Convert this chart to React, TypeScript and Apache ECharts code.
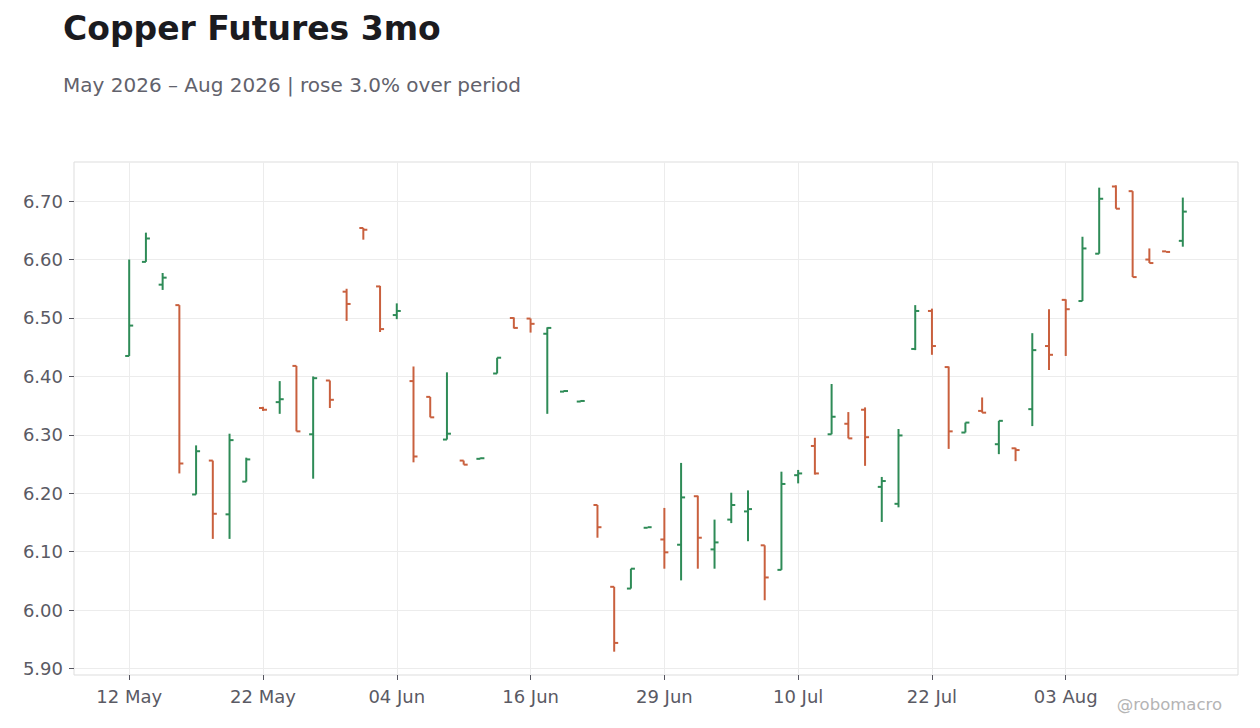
import * as echarts from 'echarts';
import React, { useEffect, useRef } from 'react';

// trading days, 12 May 2026 .. 12 Aug 2026
const dates = [
  '2026-05-12', '2026-05-13', '2026-05-14', '2026-05-15', '2026-05-18', '2026-05-19', '2026-05-20', '2026-05-21',
  '2026-05-22', '2026-05-26', '2026-05-27', '2026-05-28', '2026-05-29', '2026-06-01', '2026-06-02', '2026-06-03',
  '2026-06-04', '2026-06-05', '2026-06-08', '2026-06-09', '2026-06-10', '2026-06-11', '2026-06-12', '2026-06-15',
  '2026-06-16', '2026-06-17', '2026-06-18', '2026-06-22', '2026-06-23', '2026-06-24', '2026-06-25', '2026-06-26',
  '2026-06-29', '2026-06-30', '2026-07-01', '2026-07-02', '2026-07-06', '2026-07-07', '2026-07-08', '2026-07-09',
  '2026-07-10', '2026-07-13', '2026-07-14', '2026-07-15', '2026-07-16', '2026-07-17', '2026-07-20', '2026-07-21',
  '2026-07-22', '2026-07-23', '2026-07-24', '2026-07-27', '2026-07-28', '2026-07-29', '2026-07-30', '2026-07-31',
  '2026-08-03', '2026-08-04', '2026-08-05', '2026-08-06', '2026-08-07', '2026-08-10', '2026-08-11', '2026-08-12',
];

const opens = [
  6.435, 6.596, 6.557, 6.522, 6.198, 6.256, 6.164, 6.220, 6.346, 6.356, 6.418, 6.301, 6.393, 6.545, 6.654, 6.554,
  6.505, 6.392, 6.365, 6.292, 6.256, 6.259, 6.405, 6.500, 6.499, 6.473, 6.374, 6.357, 6.180, 6.040, 6.037, 6.141,
  6.121, 6.112, 6.195, 6.104, 6.155, 6.169, 6.111, 6.069, 6.231, 6.281, 6.301, 6.319, 6.343, 6.211, 6.182, 6.447,
  6.512, 6.416, 6.304, 6.341, 6.284, 6.277, 6.344, 6.452, 6.531, 6.529, 6.610, 6.725, 6.717, 6.600, 6.614, 6.632,
];
const highs = [
  6.600, 6.646, 6.577, 6.522, 6.282, 6.256, 6.302, 6.261, 6.348, 6.392, 6.418, 6.400, 6.393, 6.550, 6.654, 6.555,
  6.525, 6.417, 6.365, 6.407, 6.256, 6.261, 6.432, 6.501, 6.499, 6.484, 6.376, 6.359, 6.180, 6.040, 6.071, 6.142,
  6.175, 6.252, 6.196, 6.155, 6.201, 6.205, 6.111, 6.237, 6.240, 6.295, 6.387, 6.339, 6.347, 6.228, 6.310, 6.522,
  6.516, 6.417, 6.321, 6.364, 6.324, 6.278, 6.474, 6.515, 6.532, 6.639, 6.723, 6.727, 6.717, 6.619, 6.614, 6.706,
];
const lows = [
  6.435, 6.596, 6.548, 6.234, 6.198, 6.122, 6.122, 6.220, 6.341, 6.336, 6.306, 6.225, 6.346, 6.495, 6.634, 6.476,
  6.498, 6.253, 6.330, 6.292, 6.249, 6.259, 6.405, 6.482, 6.475, 6.336, 6.374, 6.357, 6.124, 5.929, 6.037, 6.141,
  6.071, 6.051, 6.071, 6.071, 6.149, 6.118, 6.017, 6.069, 6.217, 6.232, 6.301, 6.294, 6.247, 6.151, 6.176, 6.445,
  6.437, 6.276, 6.304, 6.338, 6.267, 6.255, 6.315, 6.411, 6.435, 6.529, 6.610, 6.687, 6.570, 6.594, 6.613, 6.622,
];
const closes = [
  6.487, 6.636, 6.569, 6.251, 6.272, 6.165, 6.291, 6.258, 6.343, 6.361, 6.306, 6.397, 6.360, 6.524, 6.651, 6.481,
  6.512, 6.263, 6.330, 6.302, 6.249, 6.260, 6.432, 6.483, 6.490, 6.483, 6.375, 6.358, 6.142, 5.944, 6.071, 6.142,
  6.099, 6.193, 6.124, 6.116, 6.180, 6.173, 6.056, 6.216, 6.234, 6.234, 6.331, 6.294, 6.296, 6.221, 6.299, 6.512,
  6.452, 6.306, 6.321, 6.338, 6.324, 6.274, 6.445, 6.437, 6.515, 6.619, 6.704, 6.687, 6.570, 6.594, 6.613, 6.682,
];

const tickIdx = [0, 8, 16, 24, 32, 40, 48, 56];
const tickLabels = ['12 May', '22 May', '04 Jun', '16 Jun', '29 Jun', '10 Jul', '22 Jul', '03 Aug'];
const yTicks = [5.9, 6.0, 6.1, 6.2, 6.3, 6.4, 6.5, 6.6, 6.7];

const UP = '#2e8b57';
const DOWN = '#c9603e';
const FONT = 'DejaVu Sans';

const App: React.FC = () => {
  const chartRef = useRef<HTMLDivElement>(null);

  useEffect(() => {
    const myChart = echarts.init(chartRef.current!, null, { renderer: 'svg' });

    const lo = Math.min(...lows);
    const hi = Math.max(...highs);
    const pad = (hi - lo) * 0.05;

    const option = {
      animation: false,
      backgroundColor: '#ffffff',
      title: [
        {
          text: 'Copper Futures 3mo',
          left: 63,
          top: 12,
          padding: 0,
          textStyle: { fontFamily: FONT, fontSize: 33, fontWeight: 'bold', color: '#1b1b1f' },
        },
        {
          text: 'May 2026 – Aug 2026 | rose 3.0% over period',
          left: 63,
          top: 75,
          padding: 0,
          textStyle: { fontFamily: FONT, fontSize: 20, fontWeight: 'normal', color: '#62626c' },
        },
      ],
      grid: {
        left: 74,
        right: 22,
        top: 162,
        bottom: 53,
        show: true,
        borderColor: '#dddddd',
        borderWidth: 1,
      },
      xAxis: {
        type: 'value',
        min: -3.3,
        max: dates.length - 1 + 3.3,
        axisLine: { show: false, onZero: false },
        axisTick: {
          show: true,
          customValues: tickIdx,
          length: 5,
          lineStyle: { color: '#55555f' },
        },
        axisLabel: {
          customValues: tickIdx,
          margin: 12,
          color: '#5a5a64',
          fontSize: 18,
          fontFamily: FONT,
          formatter: (v: number) => tickLabels[tickIdx.indexOf(Math.round(v))] ?? '',
        },
        splitLine: { show: true, lineStyle: { color: '#ececec', width: 1 } },
      },
      yAxis: {
        type: 'value',
        min: lo - pad,
        max: hi + pad,
        axisLine: { show: false, onZero: false },
        axisTick: {
          show: true,
          customValues: yTicks,
          length: 5,
          lineStyle: { color: '#55555f' },
        },
        axisLabel: {
          customValues: yTicks,
          margin: 11,
          color: '#5a5a64',
          fontSize: 18,
          fontFamily: FONT,
          formatter: (v: number) => v.toFixed(2),
        },
        splitLine: { show: true, lineStyle: { color: '#ececec', width: 1 } },
      },
      graphic: [
        {
          type: 'text',
          right: 38,
          top: 696,
          style: { text: '@robomacro', fontFamily: FONT, fontSize: 16.5, fill: '#b4b4b4' },
        },
      ],
      series: [
        {
          type: 'custom',
          name: 'Copper',
          encode: { x: 0, y: [1, 2, 3, 4] },
          data: dates.map((_, i) => [i, opens[i], highs[i], lows[i], closes[i]]),
          renderItem: (params: any, api: any) => {
            const i = api.value(0);
            const o = api.coord([i, api.value(1)]);
            const h = api.coord([i, api.value(2)]);
            const l = api.coord([i, api.value(3)]);
            const c = api.coord([i, api.value(4)]);
            const color = api.value(4) >= api.value(1) ? UP : DOWN;
            const style = { stroke: color, lineWidth: 2 };
            const x = h[0];
            return {
              type: 'group',
              children: [
                { type: 'line', shape: { x1: x, y1: h[1], x2: x, y2: l[1] }, style },
                { type: 'line', shape: { x1: x - 4, y1: o[1], x2: x, y2: o[1] }, style },
                { type: 'line', shape: { x1: x, y1: c[1], x2: x + 4, y2: c[1] }, style },
              ],
            };
          },
        },
      ],
    };

    myChart.setOption(option);

    return () => {
      myChart.dispose();
    };
  }, []);

  return (
    <div
      ref={chartRef}
      style={{ position: 'absolute', left: 0, top: 0, width: '1260px', height: '728px' }}
    />
  );
};

export default App;
